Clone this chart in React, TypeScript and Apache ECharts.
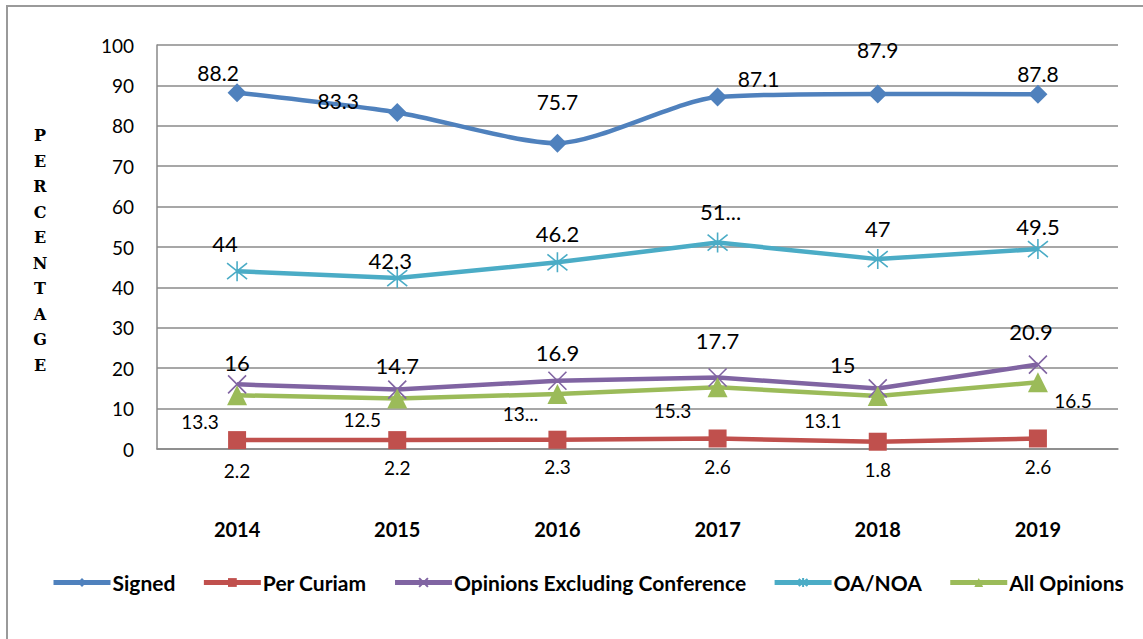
import React, { useEffect, useRef } from "react";
import * as echarts from "echarts";

const years = ["2014", "2015", "2016", "2017", "2018", "2019"];
const signed = [88.2, 83.3, 75.7, 87.1, 87.9, 87.8];
const perCuriam = [2.2, 2.2, 2.3, 2.6, 1.8, 2.6];
const opinionsExcl = [16, 14.7, 16.9, 17.7, 15, 20.9];
const oaNoa = [44, 42.3, 46.2, 51.1, 47, 49.5];
const allOpinions = [13.3, 12.5, 13.6, 15.3, 13.1, 16.5];
const yMin = 0;
const yMax = 100;
const yStep = 10;
const yTitle = "PERCENTAGE";

// label placement (layout only)
const signedOff = [[-19, -20], [-59, -12], [0, -42], [41, -19], [0, -44], [0, -21]];
const perCuriamOff = [[0, 30], [0, 27], [0, 27], [0, 28], [0, 28], [0, 28]];
const opinionsOff = [[0, -22], [0, -24], [0, -28], [0, -37], [-35, -24], [-7, -33]];
const oaOff = [[-12, -28], [-7, -18], [0, -29], [3, -31], [0, -31], [0, -23]];
const allOff = [[-37, 26], [-35, 21], [-37, 19], [-45, 23], [-55, 24], [35, 18]];
const truncatedOa = [3];
const truncatedAll = [2];

const FONT = "Lato, 'Open Sans', sans-serif";

function mk(
  name: string,
  data: number[],
  color: string,
  symbol: string,
  symbolSize: number,
  offsets: number[][],
  fontSize: number,
  truncated: number[],
  hollow: boolean,
  smooth: number | boolean
) {
  return {
    name,
    type: "line",
    smooth,
    symbol,
    symbolSize,
    z: 3,
    lineStyle: { color, width: 4.5 },
    itemStyle: hollow
      ? { color: "none", borderColor: color, borderWidth: 1.6 }
      : { color },
    label: {
      show: true,
      position: "inside",
      color: "#000",
      fontSize,
      fontFamily: FONT,
      formatter: (p: any) =>
        truncated.includes(p.dataIndex)
          ? String(Math.floor(p.value)) + "..."
          : String(p.value),
    },
    data: data.map((v, i) => ({ value: v, label: { offset: offsets[i] } })),
  };
}

export default function App() {
  const ref = useRef<HTMLDivElement>(null);
  useEffect(() => {
    if (!ref.current) return;
    const chart = echarts.init(ref.current, null, { renderer: "svg" });
    const xPath = "path://M0,0L20,20M20,0L0,20";
    const starPath = "path://M2,2L18,18M18,2L2,18M10,0L10,20";
    chart.setOption({
      animation: false,
      backgroundColor: "#fff",
      grid: { left: 157, right: 25, top: 45, bottom: 190 },
      legend: {
        left: 46,
        top: 567,
        itemWidth: 57,
        itemHeight: 11,
        itemGap: 26,
        lineStyle: { width: 5 },
        textStyle: { fontFamily: FONT, fontWeight: "bold", fontSize: 21, color: "#000", padding: [0, 0, 0, -3] },
        data: ["Signed", "Per Curiam", "Opinions Excluding Conference", "OA/NOA", "All Opinions"],
      },
      xAxis: {
        type: "category",
        data: years,
        boundaryGap: true,
        axisLine: { lineStyle: { color: "#888", width: 1.5 } },
        axisTick: { show: false },
        axisLabel: { margin: 70, fontFamily: FONT, fontWeight: "bold", fontSize: 20, color: "#000" },
      },
      yAxis: {
        type: "value",
        min: yMin,
        max: yMax,
        interval: yStep,
        axisLine: { show: true, lineStyle: { color: "#888", width: 1.5 } },
        axisTick: { show: false },
        axisLabel: { margin: 23, fontFamily: FONT, fontSize: 19, color: "#000" },
        splitLine: { lineStyle: { color: "#8a8a8a", width: 1.5 } },
      },
      graphic: [
        {
          type: "rect",
          shape: { x: 7, y: 6, width: 1300, height: 800 },
          style: { fill: "none", stroke: "#9a9a9a", lineWidth: 2 },
          silent: true,
        },
        {
          type: "text",
          x: 40,
          y: 123,
          style: {
            text: yTitle.split("").join("\n"),
            font: "bold 16px 'DejaVu Serif', 'Liberation Serif', serif",
            fill: "#000",
            align: "center",
            verticalAlign: "top",
            lineHeight: 25.5,
          },
        },
      ],
      series: [
        mk("Signed", signed, "#4F81BD", "diamond", 19, signedOff, 21, [], false, 0.25),
        mk("Per Curiam", perCuriam, "#C0504D", "rect", 18, perCuriamOff, 19, [], false, false),
        mk("Opinions Excluding Conference", opinionsExcl, "#8064A2", xPath, 18, opinionsOff, 22, [], true, false),
        mk("OA/NOA", oaNoa, "#4BACC6", starPath, 20, oaOff, 22, truncatedOa, true, false),
        mk("All Opinions", allOpinions, "#9BBB59", "triangle", 20, allOff, 19, truncatedAll, false, false),
      ],
    });
    return () => chart.dispose();
  }, []);
  return (
    <div
      ref={ref}
      style={{ position: "absolute", left: 0, top: 0, width: 1143, height: 639, background: "#fff" }}
    />
  );
}
